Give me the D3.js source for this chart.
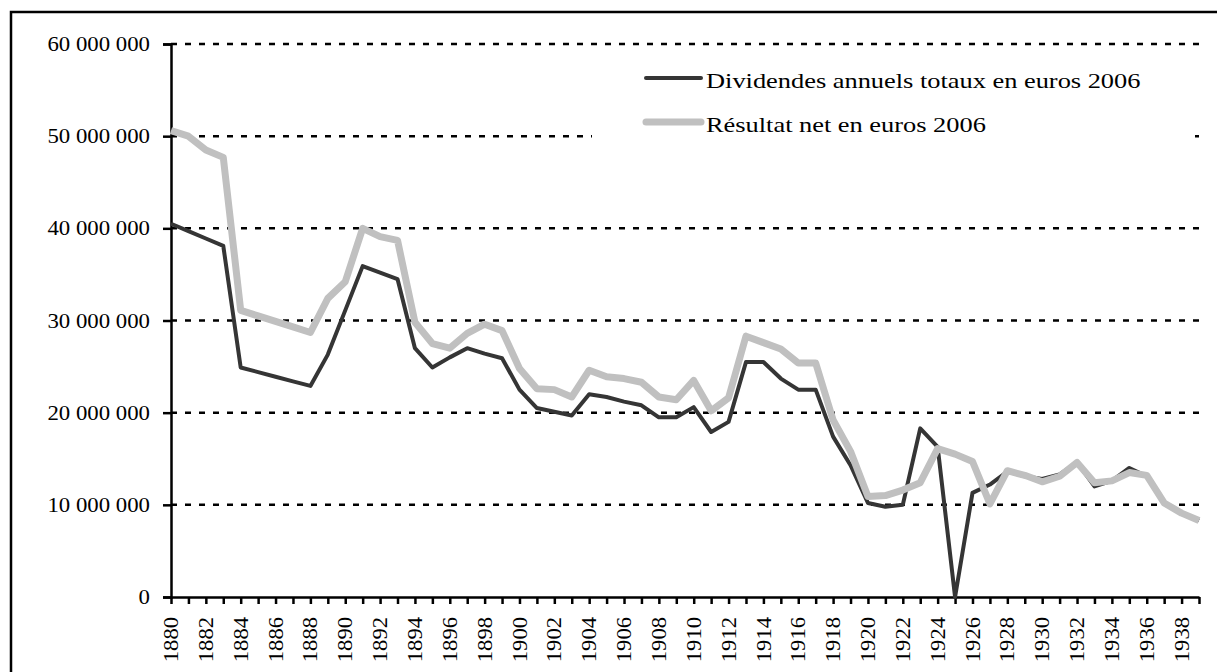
<!DOCTYPE html>
<html lang="fr">
    <head>
        <meta charset="utf-8">
        <title>Dividendes et résultat net</title>
        <script src="https://d3js.org/d3.v7.min.js"></script>
        <style>
            body { margin: 0; background: #fff; }
        </style>
    </head>
    <body>
        <script>
            // values, in euros 2006
            const years = d3.range(1880, 1940);
            const dividendes = [
                40.5, 39.7, 38.9, 38.1, 24.9, 24.4, 23.9, 23.4, 22.9, 26.3,
                31.1, 35.9, 35.2, 34.5, 27.0, 24.9, 26.0, 27.0, 26.4, 25.9,
                22.5, 20.5, 20.1, 19.7, 22.0, 21.7, 21.2, 20.8, 19.5, 19.5,
                20.6, 17.9, 19.0, 25.5, 25.5, 23.7, 22.5, 22.5, 17.4, 14.3,
                10.2, 9.8, 10.0, 18.3, 16.3, 0, 11.3, 12.2, 13.6, 13.1,
                12.8, 13.3, 14.6, 12.0, 12.6, 14.0, 13.1, 10.2, 9.1, 8.3
            ].map(d => d * 1e6);
            const resultat = [
                50.6, 50.0, 48.5, 47.7, 31.1, 30.5, 29.9, 29.3, 28.7, 32.4,
                34.2, 40.0, 39.1, 38.7, 29.8, 27.5, 27.0, 28.6, 29.6, 28.9,
                24.8, 22.6, 22.5, 21.7, 24.6, 23.9, 23.7, 23.3, 21.7, 21.4,
                23.5, 20.2, 21.6, 28.3, 27.6, 26.9, 25.4, 25.4, 19.2, 15.8,
                10.9, 11.0, 11.6, 12.4, 16.1, 15.5, 14.7, 10.1, 13.7, 13.2,
                12.5, 13.1, 14.6, 12.4, 12.6, 13.5, 13.2, 10.2, 9.1, 8.3
            ].map(d => d * 1e6);
            const yTicks = [0, 10e6, 20e6, 30e6, 40e6, 50e6, 60e6];
            const seriesNames = ['Dividendes annuels totaux en euros 2006', 'Résultat net en euros 2006'];

            const w = 1217, h = 672;
            const plotLeft = 171, plotRight = 1199, plotTop = 44, plotBottom = 597;
            const serif = "'Liberation Serif'";

            const svg = d3.select('body').append('svg')
                          .attr('width', w)
                          .attr('height', h);

            // outer frame (right and bottom edges fall outside the picture)
            svg.append('rect')
               .attr('x', 11).attr('y', 12)
               .attr('width', w + 20).attr('height', h + 20)
               .attr('fill', 'white')
               .attr('stroke', 'black')
               .attr('stroke-width', 2.5);

            const x = d3.scaleLinear().domain([1880, 1939]).range([plotLeft, plotRight]);
            const y = d3.scaleLinear().domain([0, 60e6]).range([plotBottom, plotTop]);

            // dashed gridlines
            svg.append('g')
               .selectAll('line')
               .data(yTicks.filter(d => d > 0))
               .enter()
               .append('line')
               .attr('x1', plotLeft).attr('x2', plotRight)
               .attr('y1', d => y(d)).attr('y2', d => y(d))
               .attr('stroke', 'black')
               .attr('stroke-width', 2.5)
               .attr('stroke-dasharray', '6,8');

            const fmt = d => d3.format(',')(d).replace(/,/g, '\u00a0');

            // y axis
            const yAxis = d3.axisLeft(y).tickValues(yTicks).tickSize(8).tickPadding(13).tickFormat(fmt);
            const gy = svg.append('g')
                          .attr('transform', 'translate(' + plotLeft + ',0)')
                          .call(yAxis);
            gy.select('.domain').attr('stroke-width', 2.5);
            gy.selectAll('.tick line').attr('stroke-width', 2.5);
            gy.selectAll('text')
              .style('font-family', serif)
              .style('font-size', '20px')
              .attr('fill', 'black')
              .attr('x', 0).attr('dy', '0.33em')
              .attr('transform', 'translate(-21,0) scale(1.14,1)');

            // x axis: a tick every year, a label every two years
            const xAxis = d3.axisBottom(x)
                            .tickValues(years)
                            .tickSize(7)
                            .tickSizeOuter(0)
                            .tickFormat(d => d % 2 === 0 ? d : '');
            const gx = svg.append('g')
                          .attr('transform', 'translate(0,' + plotBottom + ')')
                          .call(xAxis);
            gx.select('.domain').attr('stroke-width', 2.5);
            gx.selectAll('.tick line').attr('stroke-width', 2.5);
            gx.selectAll('text')
              .style('font-family', serif)
              .style('font-size', '20px')
              .attr('fill', 'black')
              .attr('text-anchor', 'end')
              .attr('x', 0).attr('y', 0).attr('dy', '0.33em')
              .attr('transform', 'translate(0,20) rotate(-90) scale(1.13,1)');

            // lines
            const line = d3.line().x((d, i) => x(years[i])).y(d => y(d));
            svg.append('path')
               .datum(dividendes)
               .attr('d', line)
               .attr('fill', 'none')
               .attr('stroke', '#353535')
               .attr('stroke-width', 4)
               .attr('stroke-linejoin', 'round');
            svg.append('path')
               .datum(resultat)
               .attr('d', line)
               .attr('fill', 'none')
               .attr('stroke', '#c0c0c0')
               .attr('stroke-width', 7)
               .attr('stroke-linejoin', 'round');

            // legend
            const legend = svg.append('g');
            legend.append('rect')
                  .attr('x', 592).attr('y', 58)
                  .attr('width', 603).attr('height', 92)
                  .attr('fill', 'white');
            const rows = [
                {name: seriesNames[0], color: '#353535', width: 4, cy: 78},
                {name: seriesNames[1], color: '#c0c0c0', width: 7, cy: 122}
            ];
            rows.forEach(r => {
                legend.append('line')
                      .attr('x1', 646).attr('x2', 701)
                      .attr('y1', r.cy).attr('y2', r.cy)
                      .attr('stroke', r.color)
                      .attr('stroke-width', r.width)
                      .attr('stroke-linecap', 'round');
                legend.append('text')
                      .text(r.name)
                      .style('font-family', serif)
                      .style('font-size', '22px')
                      .attr('fill', 'black')
                      .attr('transform', 'translate(706,' + (r.cy + 10) + ') scale(1.2,1)');
            });
        </script>
    </body>
</html>
